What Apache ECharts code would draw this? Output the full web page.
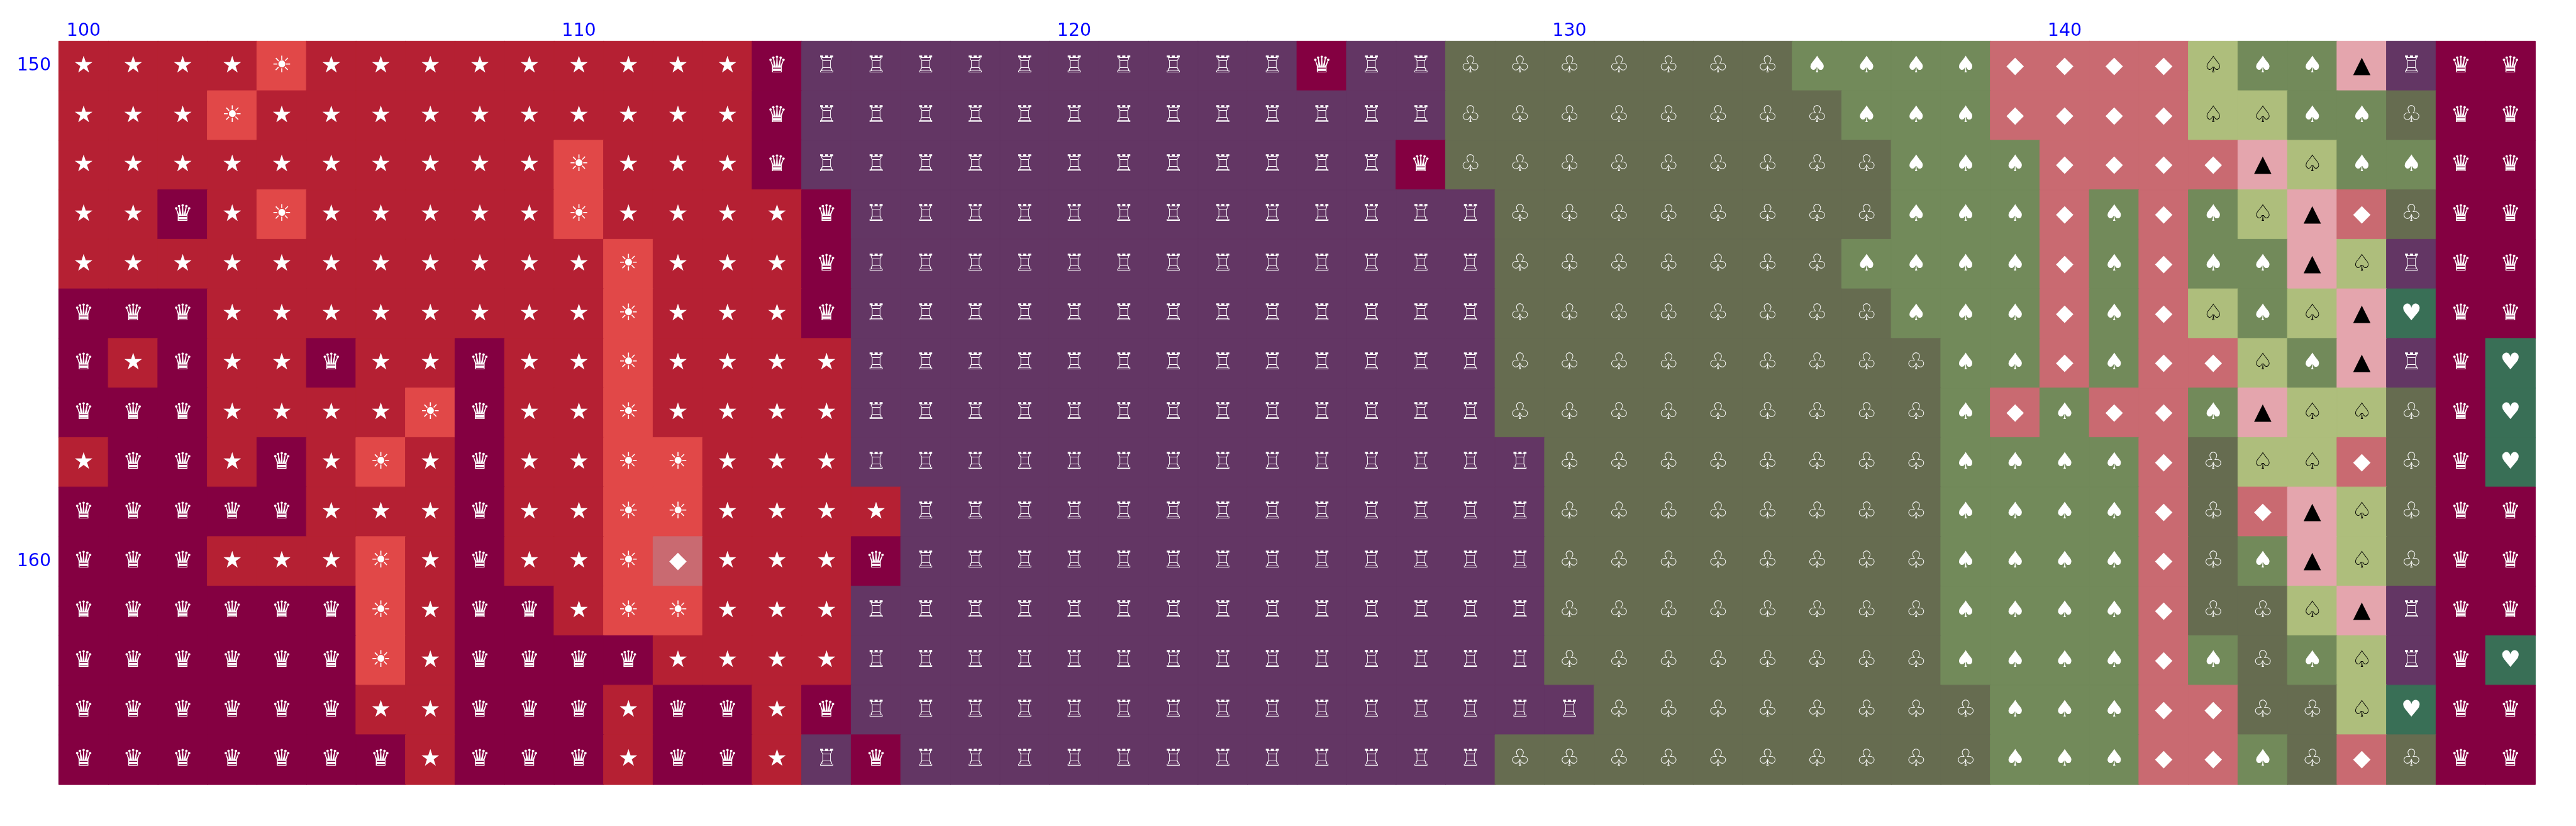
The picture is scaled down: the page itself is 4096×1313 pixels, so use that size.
<!DOCTYPE html>
<html>
<head>
<meta charset="utf-8">
<style>html,body{margin:0;padding:0;background:#fff;overflow:hidden}#c{width:4096px;height:1313px}</style>
<script src="https://cdn.jsdelivr.net/npm/echarts@6/dist/echarts.min.js"></script>
</head>
<body>
<div id="c"></div>
<script>
const columnLabels = Array.from({length: 50}, (_, i) => String(100 + i));
const rowLabels = Array.from({length: 15}, (_, i) => String(150 + i));

// One letter per cell, stands for a class below
const row150 = "SSSSUSSSSSSSSSQRRRRRRRRRRQRRCCCCCCCPPPPDDDDOPPTRQQ";
const row151 = "SSSUSSSSSSSSSSQRRRRRRRRRRRRRCCCCCCCCPPPDDDDOOPPCQQ";
const row152 = "SSSSSSSSSSUSSSQRRRRRRRRRRRRQCCCCCCCCCPPPDDDDTOPPQQ";
const row153 = "SSQSUSSSSSUSSSSQRRRRRRRRRRRRRCCCCCCCCPPPDPDPOTDCQQ";
const row154 = "SSSSSSSSSSSUSSSQRRRRRRRRRRRRRCCCCCCCPPPPDPDPPTORQQ";
const row155 = "QQQSSSSSSSSUSSSQRRRRRRRRRRRRRCCCCCCCCPPPDPDOPOTHQQ";
const row156 = "QSQSSQSSQSSUSSSSRRRRRRRRRRRRRCCCCCCCCCPPDPDDOPTRQH";
const row157 = "QQQSSSSUQSSUSSSSRRRRRRRRRRRRRCCCCCCCCCPDPDDPTOOCQH";
const row158 = "SQQSQSUSQSSUUSSSRRRRRRRRRRRRRRCCCCCCCCPPPPDCOODCQH";
const row159 = "QQQQQSSSQSSUUSSSSRRRRRRRRRRRRRCCCCCCCCPPPPDCDTOCQQ";
const row160 = "QQQSSSUSQSSUDSSSQRRRRRRRRRRRRRCCCCCCCCPPPPDCPTOCQQ";
const row161 = "QQQQQQUSQQSUUSSSRRRRRRRRRRRRRRCCCCCCCCPPPPDCCOTRQQ";
const row162 = "QQQQQQUSQQQQSSSSRRRRRRRRRRRRRRCCCCCCCCPPPPDPCPORQH";
const row163 = "QQQQQQSSQQQSQQSQRRRRRRRRRRRRRRRCCCCCCCCPPPDDCCOHQQ";
const row164 = "QQQQQQQSQQQSQQSRQRRRRRRRRRRRRCCCCCCCCCCPPPDDPCDCQQ";
const rows = [row150, row151, row152, row153, row154, row155, row156, row157,
              row158, row159, row160, row161, row162, row163, row164];

const classCodes = ["Q", "S", "U", "R", "C", "P", "D", "O", "T", "H"];
const classGlyphs = ["\u265B", "\u2605", "\u2600", "\u2656", "\u2667", "\u2660", "\u25C6", "\u2664", "\u25B2", "\u2665"];
const classFills = ["#840041", "#B52033", "#E14848", "#633664", "#666C50", "#728A5A", "#C96A71", "#AEBE7C", "#E4A5AD", "#396F56"];
const classInks = ["#ffffff", "#ffffff", "#ffffff", "#ffffff", "#ffffff", "#ffffff", "#ffffff", "#000000", "#000000", "#ffffff"];

const cells = [];
rows.forEach((row, y) => {
  [...row].forEach((code, x) => {
    const k = classCodes.indexOf(code);
    cells.push({
      value: [x, y, k],
      itemStyle: {color: classFills[k], borderColor: classFills[k], borderWidth: 1},
      label: {color: classInks[k]}
    });
  });
});

const axisText = {fontFamily: "DejaVu Sans", fontSize: 28.5, color: "#0000ff", interval: 9};

const chart = echarts.init(document.getElementById("c"), null, {renderer: "canvas"});
chart.setOption({
  animation: false,
  backgroundColor: "#ffffff",
  tooltip: {show: false},
  grid: {left: 93.625, top: 65.625, width: 3937.5, height: 1181.25},
  xAxis: {
    type: "category", position: "top", data: columnLabels,
    axisLine: {show: false}, axisTick: {show: false}, splitLine: {show: false},
    axisLabel: Object.assign({margin: 2}, axisText)
  },
  yAxis: {
    type: "category", inverse: true, data: rowLabels,
    axisLine: {show: false}, axisTick: {show: false}, splitLine: {show: false},
    axisLabel: Object.assign({margin: 12.5, padding: [2, 0, 0, 0]}, axisText)
  },
  series: [{
    type: "heatmap",
    data: cells,
    progressive: 0,
    silent: true,
    emphasis: {disabled: true},
    label: {
      show: true,
      fontFamily: "DejaVu Sans",
      fontSize: 36.25,
      offset: [0, 0.5],
      formatter: p => classGlyphs[p.value[2]]
    }
  }]
});
</script>
</body>
</html>
